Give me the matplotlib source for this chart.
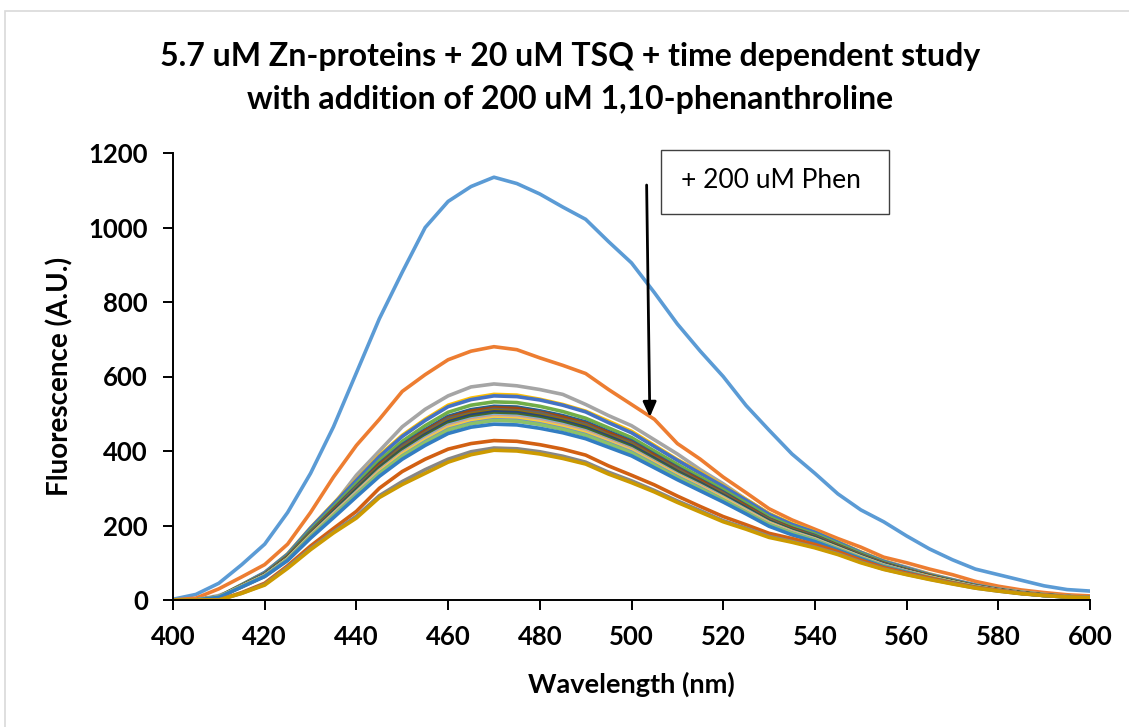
import numpy as np
import matplotlib
matplotlib.use("Agg")
import matplotlib.pyplot as plt
from matplotlib.patches import Rectangle

plt.rcParams['font.family'] = ['Lato', 'DejaVu Sans']

wavelength = list(range(400, 601, 5))

s01 = [2, 15, 45, 95, 150, 235, 340, 465, 610, 755, 880, 1000, 1070, 1110, 1135, 1118, 1090, 1055, 1022, 962, 905, 825, 741, 668, 600, 522, 456, 392, 340, 285, 242, 210, 172, 137, 108, 83, 68, 53, 38, 28, 24]
s02 = [0, 5, 30, 62, 95, 150, 235, 330, 415, 485, 560, 605, 645, 668, 680, 672, 650, 630, 608, 565, 525, 485, 420, 378, 330, 288, 245, 215, 190, 165, 142, 115, 100, 83, 68, 50, 37, 27, 20, 14, 11]
s03 = [0, 0, 12, 35, 65, 115, 180, 255, 335, 400, 465, 512, 548, 572, 580, 575, 565, 552, 525, 495, 468, 430, 392, 350, 312, 270, 232, 200, 180, 155, 128, 105, 88, 70, 55, 40, 30, 22, 15, 10, 7]
s04 = [0, 0, 9, 41, 73, 124, 194, 259, 323, 388, 442, 485, 523, 542, 552, 550, 539, 525, 507, 480, 453, 415, 377, 343, 307, 270, 232, 205, 183, 156, 129, 105, 86, 69, 54, 40, 29, 20, 14, 10, 6]
s05 = [0, 0, 9, 41, 74, 123, 193, 257, 321, 385, 439, 482, 519, 538, 548, 546, 537, 523, 505, 476, 449, 412, 375, 340, 305, 268, 230, 203, 182, 155, 128, 104, 86, 68, 54, 40, 29, 20, 14, 10, 6]
s06 = [0, 0, 8, 40, 71, 119, 187, 249, 312, 374, 426, 468, 504, 523, 532, 530, 520, 506, 488, 462, 436, 400, 364, 330, 296, 260, 223, 197, 177, 151, 125, 101, 83, 66, 52, 38, 28, 20, 14, 9, 6]
s07 = [0, 0, 8, 39, 69, 117, 183, 244, 305, 366, 417, 457, 493, 511, 520, 518, 508, 495, 478, 452, 427, 391, 356, 323, 290, 254, 218, 193, 173, 147, 122, 99, 81, 65, 51, 38, 27, 19, 13, 9, 6]
s08 = [0, 0, 8, 38, 69, 116, 181, 242, 302, 363, 413, 454, 489, 507, 516, 514, 504, 491, 474, 449, 423, 388, 353, 321, 287, 252, 217, 192, 171, 146, 121, 98, 81, 65, 50, 37, 27, 19, 13, 9, 6]
s09 = [0, 0, 7, 37, 70, 113, 182, 238, 303, 358, 412, 449, 487, 501, 512, 508, 502, 485, 471, 443, 421, 383, 351, 316, 286, 248, 216, 189, 171, 144, 121, 96, 80, 63, 50, 36, 27, 18, 13, 9, 6]
s10 = [0, 0, 8, 38, 67, 114, 179, 238, 298, 357, 407, 446, 481, 499, 508, 506, 496, 483, 466, 441, 417, 382, 347, 315, 283, 248, 213, 188, 169, 144, 119, 96, 79, 63, 50, 37, 27, 19, 13, 9, 6]
s11 = [0, 0, 8, 37, 67, 113, 177, 237, 296, 355, 404, 444, 478, 496, 505, 503, 493, 480, 463, 439, 414, 380, 345, 314, 281, 247, 212, 187, 168, 143, 118, 96, 79, 63, 49, 36, 27, 19, 13, 9, 6]
s12 = [0, 0, 8, 37, 66, 112, 176, 234, 293, 352, 401, 440, 474, 491, 500, 498, 489, 476, 459, 435, 410, 376, 342, 311, 278, 244, 210, 186, 166, 142, 117, 95, 78, 63, 49, 36, 26, 19, 13, 9, 6]
s13 = [0, 0, 8, 37, 66, 111, 174, 232, 290, 348, 396, 435, 469, 486, 495, 493, 484, 471, 454, 430, 406, 372, 338, 308, 276, 242, 208, 184, 164, 140, 116, 94, 77, 62, 48, 36, 26, 18, 13, 9, 6]
s14 = [0, 0, 8, 37, 65, 110, 173, 231, 288, 346, 394, 432, 466, 483, 492, 490, 481, 468, 452, 428, 404, 370, 336, 306, 274, 240, 207, 183, 163, 139, 115, 93, 77, 62, 48, 36, 26, 18, 12, 9, 6]
s15 = [0, 0, 8, 36, 65, 110, 172, 230, 287, 344, 392, 431, 464, 481, 490, 488, 479, 466, 450, 426, 402, 368, 335, 304, 273, 239, 206, 182, 163, 139, 115, 93, 77, 61, 48, 35, 26, 18, 12, 9, 6]
s16 = [0, 0, 8, 36, 65, 110, 172, 229, 286, 343, 391, 429, 462, 479, 488, 486, 477, 464, 448, 424, 400, 367, 334, 303, 272, 238, 205, 181, 162, 138, 114, 92, 76, 61, 48, 35, 26, 18, 12, 9, 6]
s17 = [0, 0, 8, 36, 64, 109, 170, 227, 284, 340, 387, 425, 458, 475, 484, 482, 473, 460, 444, 421, 397, 364, 331, 301, 269, 236, 203, 180, 161, 137, 113, 92, 76, 60, 47, 35, 26, 18, 12, 9, 6]
s18 = [0, 0, 8, 36, 64, 108, 169, 226, 282, 339, 386, 423, 456, 473, 482, 480, 471, 458, 442, 419, 395, 362, 329, 299, 268, 235, 202, 179, 160, 136, 113, 91, 75, 60, 47, 35, 25, 18, 12, 8, 6]
s19 = [0, 0, 7, 35, 63, 106, 166, 221, 277, 332, 378, 415, 447, 464, 472, 470, 461, 449, 433, 410, 387, 355, 323, 293, 263, 231, 198, 175, 157, 134, 111, 89, 74, 59, 46, 34, 25, 18, 12, 8, 6]
s20 = [0, 0, 0, 20, 45, 92, 145, 192, 238, 300, 345, 378, 405, 420, 428, 426, 417, 405, 389, 360, 335, 309, 279, 251, 224, 202, 179, 165, 149, 130, 107, 87, 72, 59, 46, 34, 26, 18, 13, 9, 6]
s21 = [0, 0, 0, 18, 42, 88, 138, 183, 225, 280, 318, 350, 378, 398, 408, 406, 398, 386, 370, 343, 320, 294, 266, 240, 213, 193, 171, 157, 142, 124, 102, 83, 69, 56, 44, 32, 24, 17, 12, 8, 6]
s22 = [0, 0, 0, 18, 40, 85, 135, 180, 220, 275, 310, 340, 370, 390, 402, 400, 392, 380, 365, 338, 315, 290, 262, 236, 210, 190, 168, 155, 140, 122, 100, 82, 68, 55, 43, 32, 24, 17, 12, 8, 6]

series = [s01, s02, s03, s04, s05, s06, s07, s08, s09, s10, s11,
          s12, s13, s14, s15, s16, s17, s18, s19, s20, s21, s22]
colors = ['#5B9BD5', '#ED7D31', '#A5A5A5', '#FFC000', '#4472C4', '#70AD47',
          '#255E91', '#9E480E', '#636363', '#997300', '#264478', '#43682B',
          '#7CAFDD', '#F1975A', '#B7B7B7', '#FFCD33', '#698ED0', '#8CC168',
          '#327DC2', '#D26012', '#878787', '#CC9A00']

title = "5.7 uM Zn-proteins + 20 uM TSQ + time dependent study\nwith addition of 200 uM 1,10-phenanthroline"
x_ticks = list(range(400, 601, 20))
y_ticks = list(range(0, 1201, 200))

W, H = 1129, 727
fig = plt.figure(figsize=(W / 100, H / 100), dpi=100)
fig.patch.set_facecolor('white')

# chart-area border (only top/left visible in the reference)
fig.patches.append(Rectangle((4.5 / W, -0.1), 1.2, (H - 10.5) / H + 0.1,
                             transform=fig.transFigure, fill=False,
                             edgecolor='#d9d9d9', linewidth=1.2))

ax = fig.add_axes([173 / W, (H - 600) / H, (1090 - 173) / W, (600 - 153) / H])
for s, c in zip(series, colors):
    ax.plot(wavelength, s, color=c, linewidth=2.6, solid_joinstyle='round')

ax.set_xlim(400, 600)
ax.set_ylim(0, 1200)
ax.set_xticks(x_ticks)
ax.set_yticks(y_ticks)
for sp in ['top', 'right']:
    ax.spines[sp].set_visible(False)
for sp in ['left', 'bottom']:
    ax.spines[sp].set_linewidth(1.4)
    ax.spines[sp].set_color('black')
ax.tick_params(axis='both', direction='out', length=7, width=1.4,
               labelsize=18.5)
ax.tick_params(axis='x', pad=11)
ax.tick_params(axis='y', pad=11)
for lab in ax.get_xticklabels() + ax.get_yticklabels():
    lab.set_fontweight('bold')
ax.set_xlabel('Wavelength (nm)', fontsize=19.5, fontweight='bold', labelpad=16)
ax.set_ylabel('Fluorescence (A.U.)', fontsize=20, fontweight='bold')
ax.yaxis.set_label_coords((73 - 173) / (1090 - 173), 0.5)

fig.text(570 / W, 1 - 78 / H, title, ha='center', va='center',
         fontsize=23, fontweight='bold', linespacing=1.6)

# annotation arrow and box
ax.annotate('', xy=(504.0, 491), xytext=(503.3, 1114),
            arrowprops=dict(arrowstyle='-|>,head_width=0.4,head_length=0.9',
                            color='black', lw=2.0, shrinkA=0, shrinkB=0))
fig.patches.append(Rectangle((661 / W, 1 - 214 / H), 228 / W, 64 / H,
                             transform=fig.transFigure, fill=True,
                             facecolor='white', edgecolor='#404040',
                             linewidth=1.0, zorder=5))
fig.text(771 / W, 1 - 181 / H, '+ 200 uM Phen', ha='center', va='center',
         fontsize=19, zorder=6)

fig.savefig('out.png', dpi=100)
